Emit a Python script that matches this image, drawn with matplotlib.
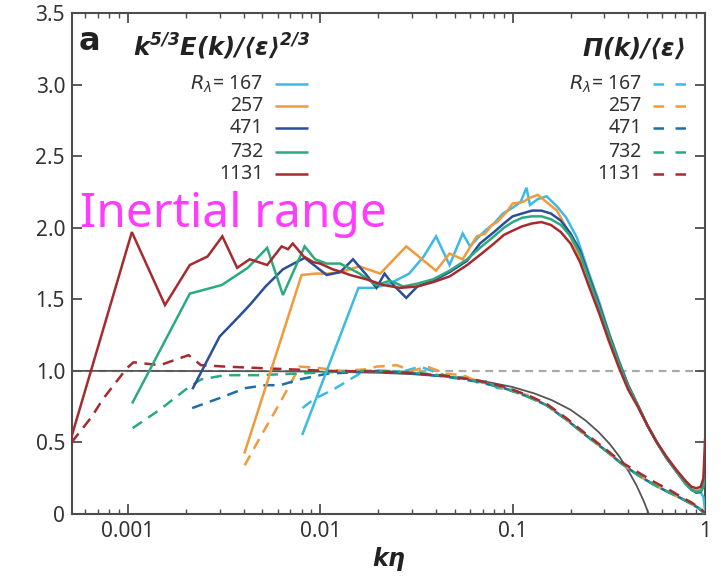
import matplotlib
matplotlib.use("Agg")
import matplotlib.pyplot as plt
from matplotlib.ticker import FixedLocator, FixedFormatter, LogLocator, NullFormatter

plt.rcParams['font.family'] = ['Noto Sans', 'DejaVu Sans']
plt.rcParams['mathtext.fontset'] = 'dejavusans'

# ---- spectra  k^{5/3} E(k) / <eps>^{2/3} ----
e167_k = [0.0081, 0.0158, 0.019, 0.023, 0.029, 0.0345, 0.040, 0.047, 0.055, 0.060,
          0.066, 0.072, 0.080, 0.089, 0.100, 0.110, 0.118, 0.123, 0.135, 0.150,
          0.170, 0.190, 0.216, 0.251, 0.282, 0.316, 0.355, 0.398, 0.447, 0.501,
          0.562, 0.631, 0.708, 0.794, 0.85, 0.90, 0.95, 0.98, 1.0]
e167_v = [0.56, 1.58, 1.58, 1.61, 1.68, 1.80, 1.94, 1.74, 1.96, 1.87,
          1.93, 1.98, 2.03, 2.10, 2.14, 2.18, 2.28, 2.16, 2.20, 2.22,
          2.15, 2.07, 1.93, 1.67, 1.48, 1.27, 1.08, 0.90, 0.76, 0.62,
          0.50, 0.39, 0.30, 0.21, 0.17, 0.15, 0.15, 0.12, 0.03]

e257_k = [0.00405, 0.0080, 0.0095, 0.0110, 0.0127, 0.016, 0.0205, 0.028, 0.036, 0.040,
          0.047, 0.055, 0.065, 0.072, 0.078, 0.083, 0.093, 0.100, 0.113, 0.123,
          0.135, 0.150, 0.170, 0.190, 0.216, 0.251, 0.282, 0.316, 0.355, 0.398,
          0.447, 0.501, 0.562, 0.631, 0.708, 0.794, 0.85, 0.90, 0.95, 0.98, 1.0]
e257_v = [0.43, 1.67, 1.68, 1.68, 1.69, 1.73, 1.68, 1.87, 1.75, 1.70,
          1.82, 1.78, 1.94, 1.96, 2.02, 2.04, 2.11, 2.17, 2.18, 2.21,
          2.23, 2.18, 2.12, 2.00, 1.84, 1.65, 1.46, 1.26, 1.07, 0.90,
          0.76, 0.62, 0.50, 0.39, 0.30, 0.21, 0.17, 0.16, 0.17, 0.22, 0.33]

e471_k = [0.00218, 0.003, 0.0036, 0.0043, 0.0052, 0.0064, 0.0083, 0.0108, 0.0127, 0.0148,
          0.0174, 0.0196, 0.0216, 0.024, 0.028, 0.032, 0.0386, 0.047, 0.058, 0.0676,
          0.080, 0.090, 0.100, 0.112, 0.126, 0.141, 0.158, 0.178, 0.200, 0.224,
          0.251, 0.282, 0.316, 0.355, 0.398, 0.447, 0.501, 0.562, 0.631, 0.708,
          0.794, 0.85, 0.90, 0.95, 0.98, 1.0]
e471_v = [0.88, 1.24, 1.35, 1.46, 1.59, 1.71, 1.79, 1.67, 1.69, 1.78,
          1.67, 1.58, 1.68, 1.60, 1.51, 1.59, 1.63, 1.69, 1.77, 1.89,
          1.97, 2.03, 2.08, 2.10, 2.12, 2.12, 2.10, 2.05, 1.96, 1.84,
          1.65, 1.46, 1.26, 1.07, 0.90, 0.76, 0.62, 0.50, 0.39, 0.30,
          0.21, 0.17, 0.15, 0.155, 0.19, 0.30]

e732_k = [0.00106, 0.0021, 0.00308, 0.0042, 0.0053, 0.0064, 0.0083, 0.0094, 0.0108, 0.0127,
          0.016, 0.0196, 0.023, 0.027, 0.032, 0.0386, 0.047, 0.058, 0.0676, 0.080,
          0.090, 0.100, 0.112, 0.126, 0.141, 0.158, 0.178, 0.200, 0.224, 0.251,
          0.282, 0.316, 0.355, 0.398, 0.447, 0.501, 0.562, 0.631, 0.708, 0.794,
          0.85, 0.90, 0.95, 0.98, 1.0]
e732_v = [0.78, 1.54, 1.60, 1.72, 1.86, 1.53, 1.87, 1.78, 1.75, 1.75,
          1.68, 1.60, 1.63, 1.59, 1.61, 1.64, 1.70, 1.78, 1.86, 1.94,
          2.00, 2.04, 2.07, 2.08, 2.08, 2.06, 2.02, 1.94, 1.82, 1.63,
          1.44, 1.25, 1.06, 0.89, 0.76, 0.62, 0.50, 0.39, 0.30, 0.21,
          0.17, 0.155, 0.16, 0.19, 0.28]

e1131_k = [0.00051, 0.00105, 0.00156, 0.0021, 0.0026, 0.0031, 0.0037, 0.0043, 0.0053, 0.0063,
           0.0068, 0.0072, 0.0082, 0.0092, 0.0100, 0.0116, 0.0130, 0.0143, 0.0174, 0.0213,
           0.026, 0.032, 0.0386, 0.047, 0.058, 0.0676, 0.080, 0.090, 0.100, 0.112,
           0.126, 0.141, 0.158, 0.178, 0.200, 0.224, 0.251, 0.282, 0.316, 0.355,
           0.398, 0.447, 0.501, 0.562, 0.631, 0.708, 0.794, 0.85, 0.90, 0.95,
           0.98, 1.0]
e1131_v = [0.54, 1.97, 1.46, 1.74, 1.80, 1.94, 1.72, 1.78, 1.74, 1.87,
           1.85, 1.89, 1.80, 1.76, 1.75, 1.71, 1.69, 1.67, 1.64, 1.60,
           1.58, 1.59, 1.62, 1.66, 1.74, 1.81, 1.89, 1.95, 1.98, 2.01,
           2.03, 2.04, 2.02, 1.97, 1.89, 1.76, 1.58, 1.40, 1.21, 1.03,
           0.87, 0.75, 0.62, 0.50, 0.40, 0.31, 0.23, 0.19, 0.18, 0.19,
           0.25, 0.52]

# ---- energy flux  Pi(k) / <eps> ----
p167_k = [0.0081, 0.0092, 0.0117, 0.016, 0.020, 0.026, 0.033, 0.040, 0.049, 0.057,
          0.065, 0.075, 0.083, 0.100, 0.120, 0.150, 0.19, 0.24, 0.30, 0.37,
          0.45, 0.55, 0.65, 0.75, 0.85, 0.93, 1.0]
p167_v = [0.74, 0.80, 0.87, 0.98, 1.00, 0.99, 1.03, 0.99, 0.95, 0.96,
          0.92, 0.93, 0.88, 0.87, 0.82, 0.76, 0.66, 0.55, 0.45, 0.35,
          0.27, 0.20, 0.15, 0.11, 0.07, 0.04, 0.0]

p257_k = [0.00405, 0.0048, 0.0059, 0.0072, 0.0078, 0.0098, 0.0131, 0.0170, 0.0197, 0.025,
          0.030, 0.036, 0.045, 0.055, 0.065, 0.090, 0.120, 0.150, 0.19, 0.24,
          0.30, 0.37, 0.45, 0.55, 0.65, 0.75, 0.85, 0.93, 1.0]
p257_v = [0.34, 0.52, 0.73, 0.94, 1.03, 1.02, 1.00, 1.01, 1.03, 1.04,
          1.00, 1.03, 0.98, 0.97, 0.93, 0.88, 0.83, 0.76, 0.66, 0.55,
          0.45, 0.35, 0.27, 0.20, 0.15, 0.11, 0.07, 0.04, 0.0]

p471_k = [0.00216, 0.003, 0.0041, 0.0052, 0.0062, 0.0078, 0.0108, 0.0148, 0.020, 0.030,
          0.045, 0.065, 0.090, 0.120, 0.150, 0.19, 0.24, 0.30, 0.37, 0.45,
          0.55, 0.65, 0.75, 0.85, 0.93, 1.0]
p471_v = [0.74, 0.81, 0.88, 0.90, 0.90, 0.94, 0.98, 0.99, 1.00, 0.985,
          0.96, 0.925, 0.88, 0.82, 0.76, 0.66, 0.55, 0.45, 0.35, 0.27,
          0.20, 0.15, 0.11, 0.07, 0.04, 0.0]

p732_k = [0.00106, 0.00147, 0.0020, 0.0024, 0.0032, 0.0048, 0.0072, 0.0108, 0.016, 0.022,
          0.030, 0.045, 0.065, 0.090, 0.120, 0.150, 0.19, 0.24, 0.30, 0.37,
          0.45, 0.55, 0.65, 0.75, 0.85, 0.93, 1.0]
p732_v = [0.60, 0.73, 0.87, 0.94, 0.97, 0.97, 0.98, 0.99, 1.00, 1.00,
          0.99, 0.965, 0.93, 0.88, 0.82, 0.76, 0.66, 0.55, 0.45, 0.35,
          0.27, 0.20, 0.15, 0.11, 0.07, 0.04, 0.0]

p1131_k = [0.00051, 0.00065, 0.00074, 0.00099, 0.00107, 0.00147, 0.00207, 0.0024, 0.0032, 0.0048,
           0.0072, 0.0108, 0.020, 0.030, 0.045, 0.065, 0.090, 0.120, 0.150, 0.19,
           0.24, 0.30, 0.37, 0.45, 0.55, 0.65, 0.75, 0.85, 0.93, 1.0]
p1131_v = [0.50, 0.68, 0.80, 1.02, 1.06, 1.04, 1.11, 1.04, 1.03, 1.02,
           1.01, 1.00, 0.995, 0.985, 0.965, 0.935, 0.89, 0.83, 0.77, 0.67,
           0.56, 0.46, 0.36, 0.29, 0.22, 0.17, 0.12, 0.08, 0.045, 0.01]

# ---- model flux curve ----
model_k = [0.00051, 0.001, 0.002, 0.005, 0.01, 0.02, 0.03, 0.05, 0.07, 0.10,
           0.13, 0.16, 0.20, 0.24, 0.28, 0.32, 0.36, 0.40, 0.44, 0.48, 0.51]
model_v = [1.0, 1.0, 0.999, 0.998, 0.995, 0.987, 0.977, 0.955, 0.929, 0.887,
           0.842, 0.795, 0.728, 0.652, 0.572, 0.488, 0.398, 0.300, 0.200, 0.090, 0.0]

r_labels = ['167', '257', '471', '732', '1131']
solid_colors = ['#3cb9e6', '#f2993a', '#2a4f98', '#2bab7d', '#a62a2e']
dash_colors = ['#3cb9e6', '#f2993a', '#1f6eaa', '#2bab7d', '#a62a2e']

E_series = [(e167_k, e167_v), (e257_k, e257_v), (e471_k, e471_v),
            (e732_k, e732_v), (e1131_k, e1131_v)]
P_series = [(p167_k, p167_v), (p257_k, p257_v), (p471_k, p471_v),
            (p732_k, p732_v), (p1131_k, p1131_v)]

fig = plt.figure(figsize=(7.21, 5.79), dpi=100)
ax = fig.add_axes([0.0999, 0.1123, 0.878, 0.865])

ax.axhline(1.0, color='#aaaaaa', lw=1.6, dashes=(3.5, 2.5), zorder=1)
ax.plot(model_k, model_v, color='#555555', lw=1.3, zorder=2)

dash_pat = (4.5, 3.0)
for (k, v), c in zip(P_series, dash_colors):
    ax.plot(k, v, color=c, lw=1.8, dashes=dash_pat, zorder=3)
for (k, v), c in zip(E_series, solid_colors):
    ax.plot(k, v, color=c, lw=1.8, zorder=4, solid_joinstyle='miter')

ax.set_xscale('log')
ax.set_xlim(0.000513, 1.0)
ax.set_ylim(0, 3.5)

ax.xaxis.set_major_locator(FixedLocator([0.001, 0.01, 0.1, 1]))
ax.xaxis.set_major_formatter(FixedFormatter(['0.001', '0.01', '0.1', '1']))
ax.xaxis.set_minor_locator(LogLocator(base=10, subs=range(2, 10)))
ax.xaxis.set_minor_formatter(NullFormatter())
yt = [0, 0.5, 1.0, 1.5, 2.0, 2.5, 3.0, 3.5]
ax.yaxis.set_major_locator(FixedLocator(yt))
ax.yaxis.set_major_formatter(FixedFormatter(['0', '0.5', '1.0', '1.5', '2.0', '2.5', '3.0', '3.5']))

spine_c = '#4d4d4d'
for s in ax.spines.values():
    s.set_color(spine_c)
    s.set_linewidth(1.5)
ax.tick_params(which='both', direction='in', top=True, right=True, color=spine_c,
               labelcolor='#333333', labelsize=15)
ax.tick_params(which='major', length=7, width=1.3, pad=5)
ax.tick_params(which='minor', length=3.5, width=1.0)

ax.set_xlabel(r'$\mathbfit{k\eta}$', fontsize=17, color='#222222', labelpad=2)

# panel letter and legend headings
ax.text(0.010, 0.944, 'a', transform=ax.transAxes, fontsize=23, fontweight='bold',
        family='DejaVu Sans', color='#222222', va='center', ha='left')
ax.text(0.236, 0.932, r'$\mathbfit{k^{5/3}E(k)/\langle\varepsilon\rangle^{2/3}}$',
        transform=ax.transAxes, fontsize=17.5, color='#222222', va='center', ha='center')
ax.text(0.967, 0.930, r'$\mathbfit{\Pi(k)/\langle\varepsilon\rangle}$',
        transform=ax.transAxes, fontsize=17.5, color='#222222', va='center', ha='right')

# legend rows
row_y = [0.858, 0.814, 0.770, 0.723, 0.679]
for i, (lab, cs, cd) in enumerate(zip(r_labels, solid_colors, dash_colors)):
    txt = (r'$R_\lambda$' + '= ' + lab) if i == 0 else lab
    ax.text(0.302, row_y[i], txt, transform=ax.transAxes, fontsize=14,
            color='#333333', ha='right', va='center')
    ax.text(0.900, row_y[i], txt, transform=ax.transAxes, fontsize=14,
            color='#333333', ha='right', va='center')
    ax.plot([0.321, 0.373], [row_y[i], row_y[i]], transform=ax.transAxes,
            color=cs, lw=1.8, solid_capstyle='butt', clip_on=False)
    ax.plot([0.918, 0.972], [row_y[i], row_y[i]], transform=ax.transAxes,
            color=cd, lw=1.8, dashes=(4.2, 4.6), dash_capstyle='butt', clip_on=False)

ax.text(0.013, 0.573, 'Inertial range', transform=ax.transAxes, fontsize=34.5,
        color='#ff3cff', ha='left', va='baseline')

fig.savefig('out.png', dpi=100)
